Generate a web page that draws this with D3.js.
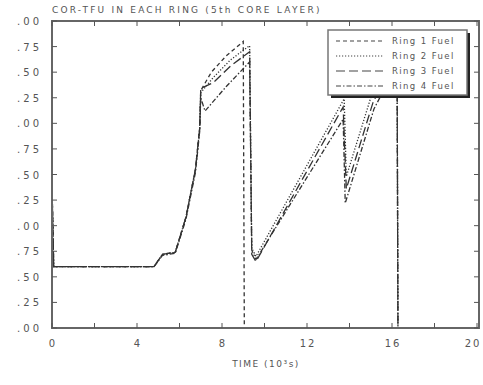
<!DOCTYPE html>
<html>
<head>
<meta charset="utf-8">
<script src="https://cdn.jsdelivr.net/npm/d3@7"></script>
<style>
  body { margin: 0; background: #fff; }
  svg { display: block; }
  text { font-family: "DejaVu Sans", sans-serif; fill: #555; }
</style>
</head>
<body>
<svg></svg>
<script>
// series: [time (10^3 s), temperature]
var ring1 = [[0,1.42],[0.08,0.6],[4.8,0.6],[5.2,0.72],[5.8,0.74],[6.3,1.08],[6.75,1.55],[6.95,1.95],[7.0,2.32],
    [7.5,2.5],[8.2,2.66],[9.0,2.8],[9.05,0]];
var ring2 = [[0,1.4],[0.08,0.6],[4.8,0.6],[5.2,0.72],[5.8,0.74],[6.3,1.08],[6.75,1.55],[6.95,1.95],[7.0,2.3],
    [7.6,2.45],[8.4,2.62],[9.3,2.76],[9.4,0.78],[9.6,0.7],[13.75,2.24],[13.85,1.48],[15.0,2.25],[15.8,2.6],[16.24,2.7],[16.28,0]];
var ring3 = [[0,1.38],[0.08,0.6],[4.8,0.6],[5.2,0.72],[5.8,0.74],[6.3,1.08],[6.75,1.55],[6.95,1.95],[7.0,2.34],
    [7.6,2.4],[8.4,2.56],[9.3,2.7],[9.4,0.72],[9.6,0.65],[13.7,2.16],[13.85,1.36],[15.1,2.2],[15.8,2.5],[16.24,2.62],[16.28,0]];
var ring4 = [[0,1.36],[0.08,0.6],[4.8,0.6],[5.2,0.71],[5.8,0.73],[6.3,1.06],[6.75,1.52],[6.95,1.92],[7.0,2.25],
    [7.2,2.12],[8.2,2.36],[9.3,2.6],[9.4,0.76],[9.6,0.67],[13.7,2.04],[13.8,1.22],[15.15,2.14],[15.8,2.4],[16.24,2.52],[16.28,0]];

var seriesNames = ['Ring 1 Fuel', 'Ring 2 Fuel', 'Ring 3 Fuel', 'Ring 4 Fuel'];
var xTickLabels = ['0', '4', '8', '12', '16', '20'];
var yTickLabels = ['.00', '.25', '.50', '.75', '.00', '.25', '.50', '.75', '.00', '.25', '.50', '.75', '.00'];

var svgWidth = 483, svgHeight = 385;
var margin = { top: 21, right: 4, bottom: 57, left: 52 };
var width = 479 - margin.left;
var height = 328 - margin.top;

var svg = d3.select('svg')
    .attr('width', svgWidth)
    .attr('height', svgHeight);

var g = svg.append('g')
    .attr('transform', 'translate(' + margin.left + ',' + margin.top + ')');

var x = d3.scaleLinear().domain([0, 20]).range([0, width - 2]);
var y = d3.scaleLinear().domain([0, 3]).range([height, 0]);

var dashes = ['4,3', '1.2,1.8', '9,4', '5,2,1.5,2'];

// curves
var line = d3.line()
    .x(function(d) { return x(d[0]); })
    .y(function(d) { return y(d[1]); });

[ring1, ring2, ring3, ring4].forEach(function(s, i) {
    g.append('path')
        .datum(s)
        .attr('fill', 'none')
        .attr('stroke', '#333')
        .attr('stroke-width', 1.3)
        .attr('stroke-dasharray', dashes[i])
        .attr('d', line);
});

// frame
g.append('rect')
    .attr('width', width).attr('height', height)
    .attr('fill', 'none')
    .attr('stroke', '#666')
    .attr('stroke-width', 2);

// ticks on all four sides, pointing inward
var xt = d3.range(0, 21, 2);
g.selectAll('.xtb').data(xt).enter().append('line')
    .attr('x1', function(d) { return x(d); }).attr('x2', function(d) { return x(d); })
    .attr('y1', height).attr('y2', height - 5)
    .attr('stroke', '#555');
g.selectAll('.xtt').data(xt).enter().append('line')
    .attr('x1', function(d) { return x(d); }).attr('x2', function(d) { return x(d); })
    .attr('y1', 0).attr('y2', 5)
    .attr('stroke', '#555');
var yt = d3.range(0, 3.01, 0.25);
g.selectAll('.ytl').data(yt).enter().append('line')
    .attr('y1', function(d) { return y(d); }).attr('y2', function(d) { return y(d); })
    .attr('x1', 0).attr('x2', 5)
    .attr('stroke', '#555');
g.selectAll('.ytr').data(yt).enter().append('line')
    .attr('y1', function(d) { return y(d); }).attr('y2', function(d) { return y(d); })
    .attr('x1', width).attr('x2', width - 5)
    .attr('stroke', '#555');

// tick labels
g.selectAll('.xl').data(xTickLabels).enter().append('text')
    .attr('x', function(d, i) { return x(+d) + (i == xTickLabels.length - 1 ? -4 : 1); })
    .attr('y', height + 19)
    .attr('text-anchor', 'middle')
    .attr('font-size', 10)
    .attr('letter-spacing', 2)
    .text(function(d) { return d; });

g.selectAll('.yl').data(yTickLabels).enter().append('text')
    .attr('x', -10)
    .attr('y', function(d, i) { return y(i * 0.25) + 4; })
    .attr('text-anchor', 'end')
    .attr('font-size', 10)
    .attr('letter-spacing', 3)
    .text(function(d) { return d; });

// title and axis title
svg.append('text')
    .attr('x', 52).attr('y', 13)
    .attr('font-size', 9)
    .attr('letter-spacing', 2.2)
    .text('COR-TFU IN EACH RING (5th CORE LAYER)');

svg.append('text')
    .attr('x', 266).attr('y', 367)
    .attr('text-anchor', 'middle')
    .attr('font-size', 9)
    .attr('letter-spacing', 1.5)
    .text('TIME (10³s)');

// legend
var lg = svg.append('g').attr('transform', 'translate(328,30)');
lg.append('rect')
    .attr('x', 3).attr('y', 3).attr('width', 139).attr('height', 65)
    .attr('fill', '#222');
lg.append('rect')
    .attr('width', 139).attr('height', 65)
    .attr('fill', '#fff')
    .attr('stroke', '#777')
    .attr('stroke-width', 1.5);
seriesNames.forEach(function(n, i) {
    var yy = 11 + i * 15;
    lg.append('line')
        .attr('x1', 8).attr('x2', 55)
        .attr('y1', yy).attr('y2', yy)
        .attr('stroke', '#444')
        .attr('stroke-width', 1.2)
        .attr('stroke-dasharray', dashes[i]);
    lg.append('text')
        .attr('x', 64).attr('y', yy + 3)
        .attr('font-size', 8.5)
        .attr('letter-spacing', 1.4)
        .text(n);
});
</script>
</body>
</html>
